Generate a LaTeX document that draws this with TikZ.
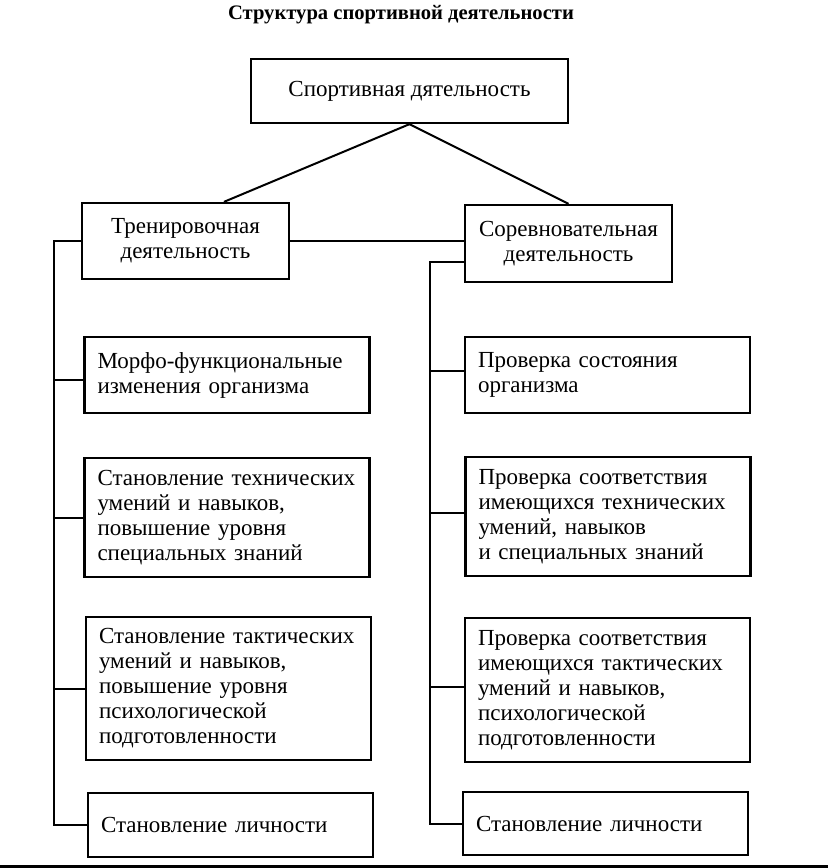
\documentclass[tikz,border=0pt]{standalone}
\usepackage{fontspec}
\setmainfont{Liberation Serif}
\begin{document}
\begin{tikzpicture}[x=1pt,y=-1pt,
  box/.style={draw, line width=2.3pt, inner ysep=0pt, font=\fontsize{23}{25}\selectfont},
  cbox/.style={box, align=center},
  lbox/.style={box, align=left, inner xsep=13pt, text width=259pt, minimum height=#1},
  conn/.style={line width=2pt},
  ttl/.style={font=\bfseries\fontsize{20.6}{24}\selectfont}]
\useasboundingbox (0,0) rectangle (828,868);
\node[ttl] (title) at (401,15) {Структура спортивной деятельности};
\node[cbox, minimum width=317pt, minimum height=64pt] (top) at (409.5,91) {Спортивная дятельность};
\node[cbox, minimum width=207pt, minimum height=76pt] (L0) at (185.5,241) {Тренировочная\\деятельность};
\node[cbox, minimum width=207pt, minimum height=77pt] (R0) at (568.5,243.5) {Соревновательная\\деятельность};
\node[lbox=76pt] (L1) at (227,375) {Морфо-функциональные\\изменения организма};
\node[lbox=119pt] (L2) at (227,517.5) {Становление технических\\умений и навыков,\\повышение уровня\\специальных знаний};
\node[lbox=143pt] (L3) at (228.5,688.5) {Становление тактических\\умений и навыков,\\повышение уровня\\психологической\\подготовленности};
\node[lbox=64pt] (L4) at (230.5,825) {Становление личности};
\node[lbox=76pt] (R1) at (607.5,375) {Проверка состояния\\организма};
\node[lbox=119pt] (R2) at (608,516.5) {Проверка соответствия\\имеющихся технических\\умений, навыков\\и специальных знаний};
\node[lbox=144pt] (R3) at (607.5,690) {Проверка соответствия\\имеющихся тактических\\умений и навыков,\\психологической\\подготовленности};
\node[lbox=63pt] (R4) at (605.5,823.5) {Становление личности};
% connectors
\draw[conn] (top.south) -- ([xshift=38.5pt]L0.north);
\draw[conn] (top.south) -- (R0.north);
\draw[conn] (L0.east) -- (L0.east -| R0.west);
\coordinate (lsp) at (54,242);
\draw[conn] (L0.west) -- (L0.west -| lsp) -- (lsp |- L4.west) -- (L4.west);
\draw[conn] ([yshift=-5pt]L1.west) -- ([yshift=-5pt]L1.west -| lsp);
\draw[conn] (L2.west) -- (L2.west -| lsp);
\draw[conn] (L3.west) -- (L3.west -| lsp);
\coordinate (rsp) at (430,262);
\draw[conn] ([yshift=-18.5pt]R0.west) -- (rsp) -- (rsp |- R4.west) -- (R4.west);
\draw[conn] ([yshift=4pt]R1.west) -- ([yshift=4pt]R1.west -| rsp);
\draw[conn] ([yshift=3.5pt]R2.west) -- ([yshift=3.5pt]R2.west -| rsp);
\draw[conn] ([yshift=3pt]R3.west) -- ([yshift=3pt]R3.west -| rsp);
\coordinate (bl) at (0,866);
\coordinate (br) at (828,866);
\draw[line width=3pt] (bl) -- (br);
\end{tikzpicture}
\end{document}
